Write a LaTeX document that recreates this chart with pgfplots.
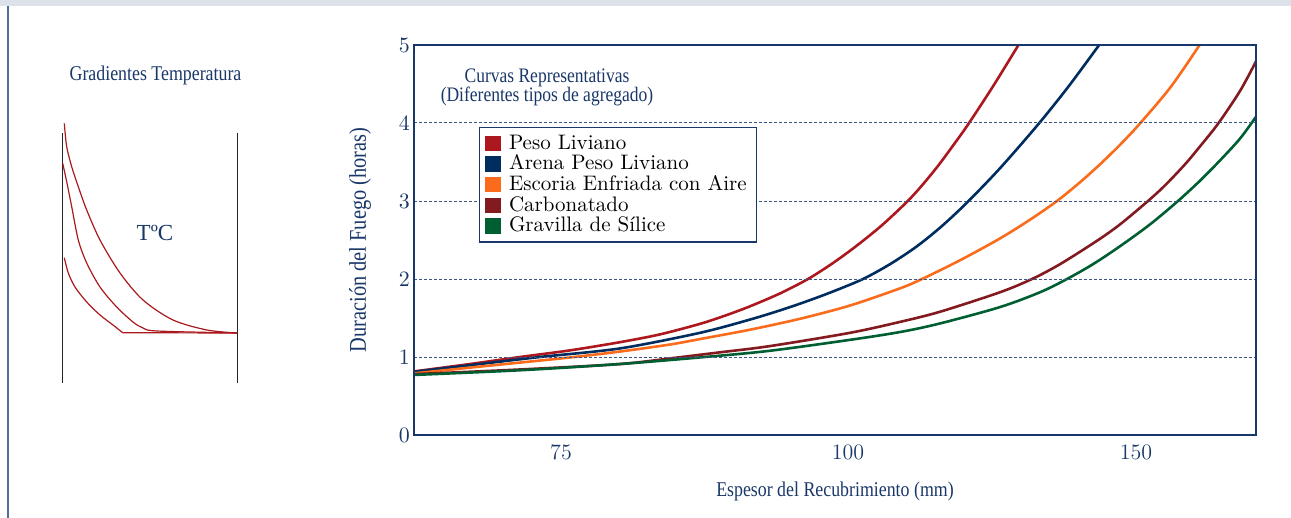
\documentclass[border=0pt]{standalone}
\usepackage{fontspec}
\usepackage{pgfplots}
\pgfplotsset{compat=1.18}
\newfontfamily\cond[FakeStretch=0.85]{Liberation Serif}
\newfontfamily\serifb{Liberation Serif}

\definecolor{navy}{RGB}{25,55,105}
\definecolor{gridc}{RGB}{60,85,130}
\definecolor{band}{RGB}{221,226,234}
\definecolor{edge}{RGB}{80,110,150}
\definecolor{cPeso}{RGB}{172,24,30}
\definecolor{cArena}{RGB}{0,45,95}
\definecolor{cEscoria}{RGB}{250,108,28}
\definecolor{cCarbon}{RGB}{130,26,32}
\definecolor{cGrav}{RGB}{0,95,50}
\definecolor{grad}{RGB}{170,25,30}

% x in pixel units of the original figure, y in hours
\pgfplotstableread{
x y
414 0.815
470 0.91
520 1.00
570 1.085
620 1.19
660 1.29
700 1.425
725 1.53
750 1.65
780 1.815
808 2.00
833 2.205
857 2.43
882 2.69
907 2.99
922 3.20
938 3.45
953 3.71
968 3.98
993 4.47
1018 4.99
1020 5.03
}\pesoliv
\pgfplotstableread{
x y
414 0.81
480 0.91
540 1.00
620 1.11
700 1.31
750 1.48
783 1.61
808 1.72
833 1.84
863 2.00
890 2.19
917 2.42
942 2.68
967 2.98
1000 3.42
1038 3.98
1068 4.46
1098 4.98
1100 5.02
}\arena
\pgfplotstableread{
x y
414 0.79
490 0.89
567 0.99
620 1.07
670 1.16
700 1.23
750 1.35
800 1.49
850 1.66
900 1.88
922 2.00
960 2.24
1000 2.52
1030 2.76
1057 3.00
1080 3.24
1100 3.47
1120 3.72
1139 3.98
1170 4.45
1197 4.95
1200 5.02
}\escoria
\pgfplotstableread{
x y
414 0.78
520 0.84
620 0.91
675 0.99
720 1.06
770 1.14
850 1.31
900 1.45
940 1.58
1000 1.83
1032 2.00
1060 2.19
1097 2.49
1120 2.70
1148 3.00
1165 3.20
1185 3.47
1200 3.70
1218 3.99
1240 4.41
1256 4.79
}\carbon
\pgfplotstableread{
x y
414 0.77
520 0.83
620 0.91
705 1.00
770 1.08
850 1.22
900 1.32
940 1.43
1000 1.64
1040 1.83
1067 2.00
1093 2.19
1120 2.42
1150 2.70
1178 3.00
1200 3.26
1220 3.52
1240 3.80
1256 4.08
}\gravilla

\begin{document}
\begin{tikzpicture}
\useasboundingbox (0,0) rectangle (645.5pt,-259pt);
\fill[band] (0,0) rectangle (645.5pt,-3pt);
\draw[edge, line width=1pt] (4pt,-3pt) -- (4pt,-259pt);

% temperature gradient sketch (pixel coordinates)
\begin{axis}[
  scale only axis, at={(25pt,-200pt)}, anchor=south west,
  width=100pt, height=145pt,
  xmin=50, xmax=250, ymin=110, ymax=400, y dir=reverse,
  axis lines=none, clip=false,
]
\addplot[black!85, line width=0.5pt] coordinates {(62.5,133) (62.5,383)};
\addplot[black!85, line width=0.5pt] coordinates {(237.5,133) (237.5,383)};
\addplot[grad, line width=0.6pt, smooth] coordinates {
  (64.3,123.3) (66.7,146.7) (71.7,166.7) (78.3,186.7) (86.7,210) (100,240)
  (120,273) (143,300) (173,320) (207,330) (237,333)};
\addplot[grad, line width=0.6pt, smooth] coordinates {
  (62.7,163.3) (66.7,181.7) (71.7,206.7) (78.3,240) (86.7,263) (100,287)
  (116.7,307) (133,322) (143,328) (157,331) (237,333)};
\addplot[grad, line width=0.6pt, smooth] coordinates {
  (64.3,257.7) (68.3,273) (75,287) (86.7,302) (100,315) (113,325) (122.7,332.7)};
\addplot[grad, line width=0.6pt] coordinates {(122.7,332.7) (237,333)};
\end{axis}
\node[text=navy, font=\cond\fontsize{10.5}{12}\selectfont] at (77.75pt,-37.5pt) {Gradientes Temperatura};
\node[text=navy, font=\serifb\fontsize{11.5}{12}\selectfont] at (77.5pt,-116.5pt) {TºC};

\begin{axis}[
  scale only axis, at={(207pt,-217.5pt)}, anchor=south west,
  width=421pt, height=195pt,
  xmin=414, xmax=1256, ymin=0, ymax=5,
  xtick={561,848,1136}, xticklabels={75,100,150},
  ytick={0,1,2,3,4,5},
  tick style={draw=none},
  ymajorgrids,
  major grid style={gridc, line width=0.5pt, dash pattern=on 1.5pt off 1pt},
  axis line style={navy, line width=0.9pt},
  axis on top,
  ticklabel style={text=navy, font=\fontsize{11}{12}\selectfont},
  yticklabel style={xshift=1.5pt},
  xticklabel style={yshift=-1.5pt},
  xlabel={Espesor del Recubrimiento (mm)},
  ylabel={Duración del Fuego (horas)},
  xlabel style={text=navy, font=\cond\fontsize{10.5}{12}\selectfont,
    at={(axis description cs:0.5,-0.146)}, anchor=center},
  ylabel style={text=navy, font=\cond\fontsize{12}{12}\selectfont,
    at={(axis description cs:-0.064,0.5)}, anchor=center},
  legend cell align=left,
  legend image code/.code={\draw[#1, line width=0pt, fill] (0.5pt,-3.6pt) rectangle (8pt,3.6pt); \path (9.5pt,0pt);},
  legend style={at={(rel axis cs:0.0772,0.7897)}, anchor=north west,
    draw=navy, line width=0.7pt, font=\fontsize{10.5}{10.8}\selectfont,
    inner xsep=3pt, inner ysep=1.5pt, row sep=-2.6pt},
]
\addplot[cPeso, line width=1.3pt, smooth] table {\pesoliv};
\addlegendentry{Peso Liviano}
\addplot[cArena, line width=1.3pt, smooth] table {\arena};
\addlegendentry{Arena Peso Liviano}
\addplot[cEscoria, line width=1.3pt, smooth] table {\escoria};
\addlegendentry{Escoria Enfriada con Aire}
\addplot[cCarbon, line width=1.3pt, smooth] table {\carbon};
\addlegendentry{Carbonatado}
\addplot[cGrav, line width=1.3pt, smooth] table {\gravilla};
\addlegendentry{Gravilla de Sílice}
\end{axis}
\node[align=center, text=navy, font=\cond\fontsize{10.3}{9.5}\selectfont] at (273.5pt,-43.5pt) {Curvas Representativas\\(Diferentes tipos de agregado)};
\end{tikzpicture}
\end{document}
